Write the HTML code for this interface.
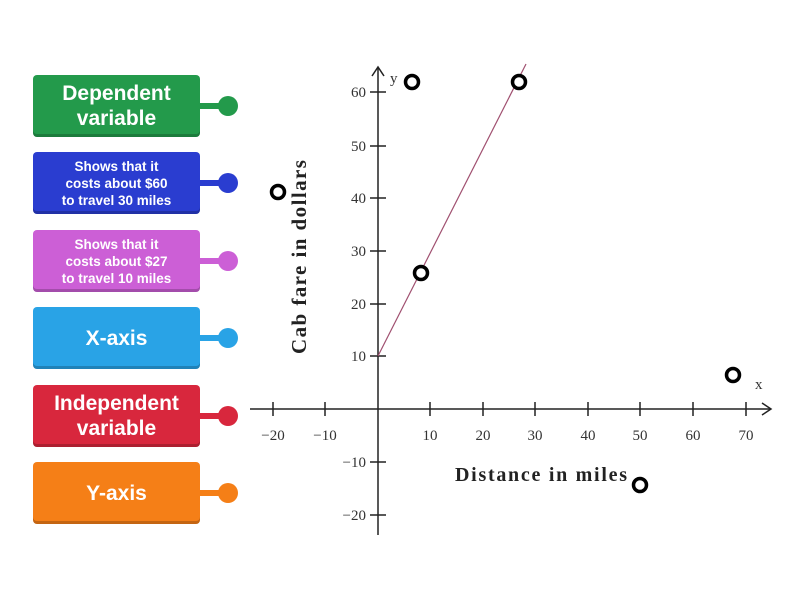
<!DOCTYPE html>
<html><head><style>
body{margin:0;width:800px;height:600px;background:#fff;position:relative;overflow:hidden;font-family:"Liberation Sans",sans-serif}
.b{position:absolute;left:33px;width:167px;height:62px;border-radius:4px;color:#fff;font-weight:bold;display:flex;align-items:center;justify-content:center;text-align:center;box-shadow:inset 0 -3px 0 rgba(0,0,0,.2)}
.c{position:absolute;left:200px;width:20px;height:6px}
.d{position:absolute;left:218px;width:20px;height:20px;border-radius:50%}
.big{font-size:21px;line-height:25px}.sm{font-size:13.5px;line-height:17px}
</style></head><body>
<div class="b big" style="top:75px;background:#239a4b">Dependent<br>variable</div>
<div class="c" style="top:103px;background:#239a4b"></div><div class="d" style="top:96px;background:#239a4b"></div>
<div class="b sm" style="top:152px;background:#2a3dd0">Shows that it<br>costs about $60<br>to travel 30 miles</div>
<div class="c" style="top:180px;background:#2a3dd0"></div><div class="d" style="top:173px;background:#2a3dd0"></div>
<div class="b sm" style="top:230px;background:#cc5fd6">Shows that it<br>costs about $27<br>to travel 10 miles</div>
<div class="c" style="top:258px;background:#cc5fd6"></div><div class="d" style="top:251px;background:#cc5fd6"></div>
<div class="b big" style="top:307px;background:#29a3e6">X-axis</div>
<div class="c" style="top:335px;background:#29a3e6"></div><div class="d" style="top:328px;background:#29a3e6"></div>
<div class="b big" style="top:385px;background:#d8273d">Independent<br>variable</div>
<div class="c" style="top:413px;background:#d8273d"></div><div class="d" style="top:406px;background:#d8273d"></div>
<div class="b big" style="top:462px;background:#f57f17">Y-axis</div>
<div class="c" style="top:490px;background:#f57f17"></div><div class="d" style="top:483px;background:#f57f17"></div>
<svg width="800" height="600" style="position:absolute;left:0;top:0" font-family="Liberation Serif,serif" fill="#333">
<g stroke="#222" stroke-width="1.5" fill="none">
<line x1="378" y1="68" x2="378" y2="535"/><line x1="250" y1="409" x2="770" y2="409"/>
<path d="M372 76 L378 67 L384 76"/><path d="M762 403 L771 409 L762 415"/>
<path d="M273 402v14M325 402v14M430 402v14M483 402v14M535 402v14M588 402v14M640 402v14M693 402v14M746 402v14"/>
<path d="M370 92h16M370 146h16M370 198h16M370 251h16M370 304h16M370 356h16M370 462h16M370 515h16"/>
</g>
<line x1="378" y1="356" x2="526" y2="64" stroke="#a05070" stroke-width="1.2"/>
<g font-size="15" text-anchor="middle">
<text x="273" y="440">−20</text><text x="325" y="440">−10</text><text x="430" y="440">10</text><text x="483" y="440">20</text><text x="535" y="440">30</text><text x="588" y="440">40</text><text x="640" y="440">50</text><text x="693" y="440">60</text><text x="746" y="440">70</text>
</g>
<g font-size="15" text-anchor="end">
<text x="366" y="97">60</text><text x="366" y="151">50</text><text x="366" y="203">40</text><text x="366" y="256">30</text><text x="366" y="309">20</text><text x="366" y="361">10</text><text x="366" y="467">−10</text><text x="366" y="520">−20</text>
</g>
<text x="390" y="83" font-size="15">y</text><text x="755" y="389" font-size="15">x</text>
<text x="541" y="481" font-size="20" font-weight="bold" text-anchor="middle" fill="#222" textLength="172">Distance in miles</text>
<text transform="translate(306,257) rotate(-90)" font-size="21" font-weight="bold" text-anchor="middle" fill="#222" textLength="194">Cab fare in dollars</text>
<g fill="#fff" stroke="#000" stroke-width="3.5">
<circle cx="412" cy="82" r="6.5"/><circle cx="519" cy="82" r="6.5"/><circle cx="278" cy="192" r="6.5"/><circle cx="421" cy="273" r="6.5"/><circle cx="733" cy="375" r="6.5"/><circle cx="640" cy="485" r="6.5"/>
</g>
</svg>
</body></html>
